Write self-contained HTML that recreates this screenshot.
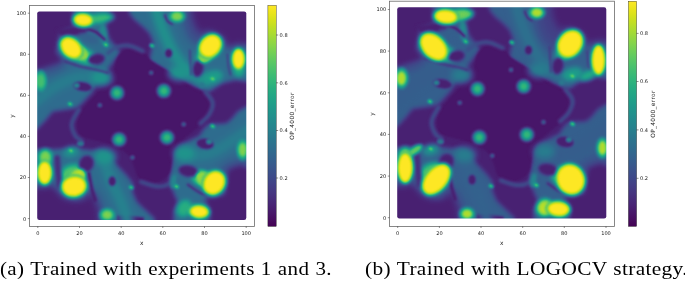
<!DOCTYPE html>
<html><head><meta charset="utf-8"><title>figure</title>
<style>
html,body{margin:0;padding:0;background:#fff}
body{width:685px;height:282px;overflow:hidden;position:relative}
svg{position:absolute;left:0;top:0;display:block}
.t{font-family:"DejaVu Sans","Liberation Sans",sans-serif;font-size:5.05px;fill:#1a1a1a}
.cap{position:absolute;transform-origin:0 0;font-family:"Liberation Serif","DejaVu Serif",serif;color:#000;white-space:nowrap;line-height:1;margin:0}
</style></head><body>
<svg width="685" height="282" viewBox="0 0 685 282">
<defs>
<filter id="viridis" x="0" y="0" width="100%" height="100%" color-interpolation-filters="sRGB">
<feComponentTransfer>
<feFuncR type="table" tableValues="0.267 0.277 0.282 0.283 0.279 0.271 0.259 0.245 0.230 0.214 0.199 0.186 0.173 0.161 0.149 0.138 0.128 0.121 0.121 0.132 0.158 0.197 0.246 0.304 0.369 0.440 0.516 0.596 0.678 0.762 0.846 0.926 0.993"/>
<feFuncG type="table" tableValues="0.005 0.050 0.095 0.136 0.175 0.214 0.252 0.288 0.322 0.356 0.388 0.419 0.449 0.479 0.508 0.537 0.567 0.596 0.626 0.655 0.684 0.712 0.739 0.765 0.789 0.811 0.831 0.849 0.864 0.876 0.887 0.897 0.906"/>
<feFuncB type="table" tableValues="0.329 0.376 0.417 0.453 0.483 0.507 0.525 0.537 0.546 0.551 0.555 0.557 0.558 0.558 0.557 0.555 0.551 0.544 0.533 0.520 0.502 0.479 0.452 0.420 0.383 0.341 0.294 0.243 0.190 0.137 0.100 0.104 0.144"/>
</feComponentTransfer>
</filter>
<filter id="b100" filterUnits="userSpaceOnUse" x="-12" y="-12" width="124" height="124" color-interpolation-filters="sRGB"><feGaussianBlur stdDeviation="1.00"/></filter>
<filter id="b120" filterUnits="userSpaceOnUse" x="-12" y="-12" width="124" height="124" color-interpolation-filters="sRGB"><feGaussianBlur stdDeviation="1.20"/></filter>
<filter id="b130" filterUnits="userSpaceOnUse" x="-12" y="-12" width="124" height="124" color-interpolation-filters="sRGB"><feGaussianBlur stdDeviation="1.30"/></filter>
<filter id="b150" filterUnits="userSpaceOnUse" x="-12" y="-12" width="124" height="124" color-interpolation-filters="sRGB"><feGaussianBlur stdDeviation="1.50"/></filter>
<filter id="b160" filterUnits="userSpaceOnUse" x="-12" y="-12" width="124" height="124" color-interpolation-filters="sRGB"><feGaussianBlur stdDeviation="1.60"/></filter>
<filter id="b180" filterUnits="userSpaceOnUse" x="-12" y="-12" width="124" height="124" color-interpolation-filters="sRGB"><feGaussianBlur stdDeviation="1.80"/></filter>
<filter id="b190" filterUnits="userSpaceOnUse" x="-12" y="-12" width="124" height="124" color-interpolation-filters="sRGB"><feGaussianBlur stdDeviation="1.90"/></filter>
<filter id="b200" filterUnits="userSpaceOnUse" x="-12" y="-12" width="124" height="124" color-interpolation-filters="sRGB"><feGaussianBlur stdDeviation="2.00"/></filter>
<filter id="b40" filterUnits="userSpaceOnUse" x="-12" y="-12" width="124" height="124" color-interpolation-filters="sRGB"><feGaussianBlur stdDeviation="0.40"/></filter>
<filter id="b50" filterUnits="userSpaceOnUse" x="-12" y="-12" width="124" height="124" color-interpolation-filters="sRGB"><feGaussianBlur stdDeviation="0.50"/></filter>
<filter id="b60" filterUnits="userSpaceOnUse" x="-12" y="-12" width="124" height="124" color-interpolation-filters="sRGB"><feGaussianBlur stdDeviation="0.60"/></filter>
<filter id="b70" filterUnits="userSpaceOnUse" x="-12" y="-12" width="124" height="124" color-interpolation-filters="sRGB"><feGaussianBlur stdDeviation="0.70"/></filter>
<filter id="b80" filterUnits="userSpaceOnUse" x="-12" y="-12" width="124" height="124" color-interpolation-filters="sRGB"><feGaussianBlur stdDeviation="0.80"/></filter>
<filter id="b90" filterUnits="userSpaceOnUse" x="-12" y="-12" width="124" height="124" color-interpolation-filters="sRGB"><feGaussianBlur stdDeviation="0.90"/></filter>

<linearGradient id="cbg" x1="0" y1="0" x2="0" y2="1"><stop offset="0.0000" stop-color="rgb(253,231,37)"/><stop offset="0.0312" stop-color="rgb(236,229,27)"/><stop offset="0.0625" stop-color="rgb(216,226,26)"/><stop offset="0.0938" stop-color="rgb(194,223,35)"/><stop offset="0.1250" stop-color="rgb(173,220,48)"/><stop offset="0.1562" stop-color="rgb(152,216,62)"/><stop offset="0.1875" stop-color="rgb(132,212,75)"/><stop offset="0.2188" stop-color="rgb(112,207,87)"/><stop offset="0.2500" stop-color="rgb(94,201,98)"/><stop offset="0.2812" stop-color="rgb(78,195,107)"/><stop offset="0.3125" stop-color="rgb(63,188,115)"/><stop offset="0.3438" stop-color="rgb(50,182,122)"/><stop offset="0.3750" stop-color="rgb(40,174,128)"/><stop offset="0.4062" stop-color="rgb(34,167,133)"/><stop offset="0.4375" stop-color="rgb(31,160,136)"/><stop offset="0.4688" stop-color="rgb(31,152,139)"/><stop offset="0.5000" stop-color="rgb(33,145,141)"/><stop offset="0.5312" stop-color="rgb(35,137,142)"/><stop offset="0.5625" stop-color="rgb(38,130,142)"/><stop offset="0.5938" stop-color="rgb(41,122,142)"/><stop offset="0.6250" stop-color="rgb(44,114,142)"/><stop offset="0.6562" stop-color="rgb(47,107,142)"/><stop offset="0.6875" stop-color="rgb(51,99,142)"/><stop offset="0.7188" stop-color="rgb(55,91,141)"/><stop offset="0.7500" stop-color="rgb(59,82,139)"/><stop offset="0.7812" stop-color="rgb(62,73,137)"/><stop offset="0.8125" stop-color="rgb(66,64,134)"/><stop offset="0.8438" stop-color="rgb(69,55,129)"/><stop offset="0.8750" stop-color="rgb(71,45,123)"/><stop offset="0.9062" stop-color="rgb(72,35,116)"/><stop offset="0.9375" stop-color="rgb(72,24,106)"/><stop offset="0.9688" stop-color="rgb(71,13,96)"/><stop offset="1.0000" stop-color="rgb(68,1,84)"/></linearGradient>
<clipPath id="clipa"><rect x="37.2" y="11.4" width="209.1" height="208.5" rx="2.2"/></clipPath>
<clipPath id="clipb"><rect x="397.2" y="7.2" width="209.1" height="211.3" rx="2.2"/></clipPath>
</defs>
<g clip-path="url(#clipa)"><g filter="url(#viridis)"><g transform="translate(37.80 13.20) scale(2.0840 2.0540)">
<rect x="-3" y="-3" width="106" height="106" fill="#595959"/>
<ellipse cx="75.5" cy="6.0" rx="5.5" ry="10.0" transform="rotate(-15 75.5 6.0)" fill="#333333" filter="url(#b200)" opacity="0.80"/>
<ellipse cx="6.0" cy="25.0" rx="8.0" ry="4.0" transform="rotate(-15 6.0 25.0)" fill="#333333" filter="url(#b200)" opacity="0.80"/>
<ellipse cx="27.0" cy="94.0" rx="4.0" ry="8.0" transform="rotate(-15 27.0 94.0)" fill="#333333" filter="url(#b200)" opacity="0.80"/>
<ellipse cx="95.0" cy="75.0" rx="8.0" ry="3.5" transform="rotate(-15 95.0 75.0)" fill="#333333" filter="url(#b200)" opacity="0.80"/>
<path d="M-4.0 -4.0 L17.0 -4.0 L17.5 7.0 L11.0 9.5 L9.0 19.0 L12.0 23.5 L0.0 27.5 L-4.0 27.5Z" fill="#161616" filter="url(#b130)"/>
<path d="M73.0 -4.0 L74.5 4.0 L77.0 9.5 L82.5 9.0 L88.5 12.0 L91.0 18.0 L93.5 16.0 L98.0 15.5 L104.0 17.0 L104.0 -4.0Z" fill="#161616" filter="url(#b180)"/>
<path d="M104.0 76.0 L97.0 74.0 L91.5 76.0 L90.0 82.0 L89.5 88.0 L84.0 89.5 L80.5 89.0 L80.5 92.5 L82.5 96.0 L82.0 104.0 L104.0 104.0Z" fill="#161616" filter="url(#b130)"/>
<path d="M-4.0 84.0 L3.0 84.5 L7.0 83.0 L9.5 86.0 L12.5 89.5 L18.0 91.0 L23.0 90.0 L25.5 86.5 L27.0 90.0 L29.0 95.0 L30.0 104.0 L-4.0 104.0Z" fill="#161616" filter="url(#b190)"/>
<path d="M38.0 98.4 L44.0 98.6 L51.0 99.4 L51.0 104.0 L38.0 104.0Z" fill="#161616" filter="url(#b60)"/>
<path d="M34.4 -4.0 L44.0 -4.0 L44.0 0.0 L46.6 3.2 L50.8 6.7 L53.6 9.6 L55.4 13.8 L54.6 18.5 L53.5 23.0 L58.0 25.8 L63.1 28.7 L68.0 31.3 L72.2 33.6 L76.0 35.8 L79.0 37.2 L82.2 38.2 L88.1 34.1 L94.8 32.4 L100.3 33.3 L104.0 33.3 L104.0 45.5 L100.3 45.5 L96.0 48.0 L93.2 51.5 L90.5 53.8 L82.0 54.2 L79.7 56.5 L77.5 60.0 L74.0 61.5 L67.9 64.8 L65.4 69.9 L64.5 74.1 L63.5 79.0 L63.8 83.3 L65.7 88.3 L67.6 92.6 L65.4 96.1 L65.3 100.0 L65.3 104.0 L55.9 104.0 L55.9 100.0 L51.0 95.4 L47.4 91.9 L45.3 87.0 L45.6 83.0 L42.5 79.0 L38.8 75.0 L35.3 71.4 L32.5 67.8 L30.0 66.5 L26.0 66.8 L21.0 66.3 L15.0 66.0 L7.1 66.3 L-0.3 66.5 L-4.0 66.5 L-4.0 56.3 L-0.3 56.3 L3.7 52.0 L7.1 47.7 L18.9 46.0 L22.2 42.6 L25.8 38.6 L28.4 34.0 L32.6 28.7 L36.0 23.8 L39.5 19.0 L37.5 16.5 L34.5 13.0 L33.2 9.5 L32.6 4.5 L34.2 0.0Z" fill="#171717" filter="url(#b100)"/>
<path d="M36.3 29.0 C36.8 27.6 36.9 24.7 37.5 23.0 C38.1 21.3 39.1 19.9 40.0 19.0 C40.9 18.1 42.0 17.6 43.0 17.3 C44.0 17.0 44.9 16.9 46.0 17.0 C47.1 17.1 48.4 17.4 49.5 18.0 C50.6 18.6 51.6 19.6 52.5 20.5 C53.4 21.4 53.2 22.0 55.0 23.3 C56.8 24.6 60.2 26.5 63.1 28.4 C66.0 30.3 69.8 33.0 72.2 34.5 C74.6 36.0 76.0 36.2 77.6 37.2 C79.2 38.2 80.7 39.3 81.6 40.5 C82.5 41.7 82.9 43.4 83.2 44.5 C83.5 45.6 83.7 46.0 83.5 47.0 C83.3 48.0 83.2 49.2 82.3 50.5 C81.4 51.8 79.7 53.0 78.0 54.5 C76.3 56.0 73.9 57.8 72.0 59.5 C70.1 61.2 67.7 62.8 66.5 64.5 C65.3 66.2 65.0 68.2 64.6 70.0 C64.2 71.8 64.2 73.7 64.0 75.0 C63.8 76.3 63.7 76.9 63.2 77.8 C62.7 78.7 62.0 79.8 61.0 80.5 C60.0 81.2 58.7 81.9 57.5 82.3 C56.3 82.7 54.9 82.9 53.6 82.8 C52.4 82.7 51.0 82.1 50.0 81.5 C49.0 80.9 48.3 80.0 47.8 79.3 C47.3 78.5 47.4 78.2 47.0 77.0 C46.6 75.8 46.0 73.6 45.4 72.3 C44.8 71.0 44.7 70.2 43.5 69.0 C42.3 67.8 40.2 66.4 38.0 65.3 C35.8 64.2 32.3 63.2 30.0 62.5 C27.7 61.8 25.6 61.5 24.0 61.0 C22.4 60.5 21.3 60.2 20.5 59.5 C19.7 58.8 19.3 58.0 19.0 57.0 C18.7 56.0 18.6 54.7 18.7 53.5 C18.8 52.3 19.1 51.2 19.6 50.0 C20.1 48.8 20.7 47.7 21.5 46.5 C22.3 45.3 23.1 44.6 24.5 43.0 C25.9 41.4 28.3 38.9 30.0 37.0 C31.7 35.1 33.5 32.8 34.5 31.5 C35.5 30.2 35.8 30.4 36.3 29.0Z" fill="#0f0f0f" filter="url(#b60)"/>
<path d="M80.5 38.4 C81.1 39.2 83.6 41.7 83.9 43.5 C84.2 45.3 83.2 47.7 82.2 49.4 C81.2 51.1 78.7 53.0 78.0 53.7" fill="none" stroke="#3d3d3d" stroke-width="1.8" stroke-linecap="round" filter="url(#b70)"/>
<path d="M19.7 46.9 C19.1 48.0 16.6 51.6 16.3 53.7 C16.0 55.8 17.2 58.3 18.0 59.7 C18.8 61.1 20.5 61.6 21.0 62.0" fill="none" stroke="#3d3d3d" stroke-width="1.8" stroke-linecap="round" filter="url(#b70)"/>
<path d="M33.6 19.5 C34.3 19.0 36.3 17.1 38.0 16.5 C39.7 15.9 41.6 15.5 43.7 15.8 C45.8 16.1 49.4 18.1 50.5 18.5" fill="none" stroke="#3d3d3d" stroke-width="1.8" stroke-linecap="round" filter="url(#b70)"/>
<path d="M66.4 81.2 C65.5 81.7 62.7 83.5 61.0 84.0 C59.3 84.5 58.2 84.5 56.3 84.2 C54.4 83.9 50.6 82.4 49.5 82.1" fill="none" stroke="#3d3d3d" stroke-width="1.8" stroke-linecap="round" filter="url(#b70)"/>
<path d="M57.0 -1.0 C57.5 0.5 58.7 4.7 60.0 8.0 C61.3 11.3 63.0 15.7 65.0 19.0 C67.0 22.3 69.5 25.7 72.0 28.0 C74.5 30.3 78.7 32.2 80.0 33.0" fill="none" stroke="#808080" stroke-width="5.5" stroke-linecap="round" filter="url(#b160)"/>
<path d="M-1.0 43.0 C0.5 41.8 4.8 37.9 8.0 36.0 C11.2 34.1 14.3 32.4 18.0 31.5 C21.7 30.6 28.0 30.7 30.0 30.5" fill="none" stroke="#6b6b6b" stroke-width="5.5" stroke-linecap="round" filter="url(#b160)"/>
<path d="M43.0 101.0 C42.5 99.5 41.3 95.3 40.0 92.0 C38.7 88.7 36.5 84.7 35.0 81.0 C33.5 77.3 31.7 71.8 31.0 70.0" fill="none" stroke="#707070" stroke-width="5.5" stroke-linecap="round" filter="url(#b160)"/>
<path d="M101.0 57.0 C99.5 58.0 95.2 61.1 92.0 63.0 C88.8 64.9 85.7 67.4 82.0 68.5 C78.3 69.6 72.0 69.3 70.0 69.5" fill="none" stroke="#6b6b6b" stroke-width="5.5" stroke-linecap="round" filter="url(#b160)"/>
<ellipse cx="30.6" cy="31.6" rx="5.0" ry="3.5" transform="rotate(0 30.6 31.6)" fill="#858585" filter="url(#b150)"/>
<ellipse cx="67.9" cy="29.0" rx="5.0" ry="3.5" transform="rotate(0 67.9 29.0)" fill="#858585" filter="url(#b150)"/>
<ellipse cx="32.3" cy="69.9" rx="5.0" ry="3.5" transform="rotate(0 32.3 69.9)" fill="#858585" filter="url(#b150)"/>
<ellipse cx="70.4" cy="68.2" rx="5.0" ry="3.5" transform="rotate(0 70.4 68.2)" fill="#858585" filter="url(#b150)"/>
<ellipse cx="84.0" cy="31.0" rx="5.0" ry="3.2" transform="rotate(-15 84.0 31.0)" fill="#8c8c8c" filter="url(#b120)"/>
<ellipse cx="16.0" cy="67.5" rx="4.0" ry="2.5" transform="rotate(-15 16.0 67.5)" fill="#808080" filter="url(#b120)"/>
<ellipse cx="20.5" cy="63.5" rx="1.6" ry="1.2" transform="rotate(0 20.5 63.5)" fill="#666666" filter="url(#b60)"/>
<ellipse cx="65.2" cy="82.0" rx="1.6" ry="3.5" transform="rotate(10 65.2 82.0)" fill="#737373" filter="url(#b70)"/>
<ellipse cx="31.4" cy="10.5" rx="1.7" ry="5.0" transform="rotate(-5 31.4 10.5)" fill="#787878" filter="url(#b70)"/>
<ellipse cx="78.8" cy="35.0" rx="1.3" ry="1.3" transform="rotate(0 78.8 35.0)" fill="#666666" filter="url(#b60)"/>
<ellipse cx="29.5" cy="2.6" rx="7.0" ry="2.4" transform="rotate(-8 29.5 2.6)" fill="#adadad" filter="url(#b100)"/>
<ellipse cx="21.5" cy="20.5" rx="7.5" ry="3.8" transform="rotate(25 21.5 20.5)" fill="#a8a8a8" filter="url(#b100)"/>
<ellipse cx="80.0" cy="20.5" rx="5.0" ry="3.2" transform="rotate(-40 80.0 20.5)" fill="#9e9e9e" filter="url(#b100)"/>
<ellipse cx="96.5" cy="27.5" rx="2.8" ry="3.5" transform="rotate(0 96.5 27.5)" fill="#999999" filter="url(#b100)"/>
<ellipse cx="3.6" cy="70.3" rx="3.3" ry="4.2" transform="rotate(0 3.6 70.3)" fill="#cccccc" filter="url(#b100)"/>
<ellipse cx="16.5" cy="78.5" rx="6.0" ry="4.8" transform="rotate(-20 16.5 78.5)" fill="#b8b8b8" filter="url(#b120)"/>
<ellipse cx="79.0" cy="80.3" rx="5.5" ry="4.2" transform="rotate(20 79.0 80.3)" fill="#a8a8a8" filter="url(#b90)"/>
<ellipse cx="70.3" cy="95.0" rx="3.6" ry="4.4" transform="rotate(30 70.3 95.0)" fill="#9e9e9e" filter="url(#b100)"/>
<path d="M9.0 8.0 L18.0 6.4 L24.5 7.0 L23.0 10.3 L17.0 11.0 L11.0 11.3Z" fill="#161616" filter="url(#b70)"/>
<path d="M23.5 7.6 C24.2 7.9 26.6 8.3 28.0 9.2 C29.4 10.1 31.3 12.2 32.0 12.8" fill="none" stroke="#161616" stroke-width="1.5" stroke-linecap="round" filter="url(#b50)"/>
<ellipse cx="24.5" cy="12.2" rx="5.0" ry="2.2" transform="rotate(22 24.5 12.2)" fill="#4c4c4c" filter="url(#b90)" opacity="0.80"/>
<path d="M13.0 23.5 C14.2 23.9 17.5 25.1 20.0 25.8 C22.5 26.5 25.8 27.0 28.0 27.5 C30.2 28.0 32.6 28.8 33.5 29.0" fill="none" stroke="#1f1f1f" stroke-width="1.3" stroke-linecap="round" filter="url(#b50)" opacity="0.80"/>
<path d="M9.3 70.5 C9.4 71.6 9.5 74.8 9.7 77.0 C9.9 79.2 10.3 82.8 10.4 84.0" fill="none" stroke="#212121" stroke-width="3.0" stroke-linecap="round" filter="url(#b80)"/>
<path d="M72.0 83.5 C73.0 84.2 76.2 86.7 78.0 87.5 C79.8 88.3 81.8 88.3 82.5 88.5" fill="none" stroke="#1f1f1f" stroke-width="1.3" stroke-linecap="round" filter="url(#b50)"/>
<path d="M24.5 78.0 C24.7 79.2 25.3 82.8 25.8 85.0 C26.3 87.2 27.2 90.0 27.5 91.0" fill="none" stroke="#161616" stroke-width="1.8" stroke-linecap="round" filter="url(#b60)"/>
<path d="M61.0 1.0 C61.2 1.5 61.9 3.3 62.5 4.0 C63.1 4.7 64.2 5.0 64.5 5.2" fill="none" stroke="#1f1f1f" stroke-width="1.2" stroke-linecap="round" filter="url(#b50)"/>
<path d="M73.0 18.0 C73.0 19.0 73.1 22.0 73.2 24.0 C73.3 26.0 73.5 29.0 73.5 30.0" fill="none" stroke="#1f1f1f" stroke-width="1.0" stroke-linecap="round" filter="url(#b60)" opacity="0.70"/>
<path d="M91.0 20.0 C91.1 21.0 91.2 24.3 91.5 26.0 C91.8 27.7 92.3 29.3 92.5 30.0" fill="none" stroke="#1f1f1f" stroke-width="1.0" stroke-linecap="round" filter="url(#b50)" opacity="0.70"/>
<ellipse cx="28.1" cy="22.4" rx="4.2" ry="2.8" transform="rotate(-10 28.1 22.4)" fill="#161616" filter="url(#b70)"/>
<ellipse cx="76.9" cy="27.0" rx="2.7" ry="4.3" transform="rotate(10 76.9 27.0)" fill="#161616" filter="url(#b70)"/>
<ellipse cx="23.3" cy="73.3" rx="3.6" ry="4.3" transform="rotate(20 23.3 73.3)" fill="#161616" filter="url(#b70)"/>
<ellipse cx="72.3" cy="76.9" rx="5.0" ry="2.9" transform="rotate(10 72.3 76.9)" fill="#161616" filter="url(#b70)"/>
<ellipse cx="21.5" cy="35.7" rx="4.5" ry="2.3" transform="rotate(10 21.5 35.7)" fill="#161616" filter="url(#b60)"/>
<ellipse cx="18.6" cy="35.2" rx="1.4" ry="1.2" transform="rotate(0 18.6 35.2)" fill="#737373" filter="url(#b50)"/>
<ellipse cx="62.8" cy="19.5" rx="1.8" ry="2.2" transform="rotate(0 62.8 19.5)" fill="#161616" filter="url(#b60)"/>
<ellipse cx="80.3" cy="63.6" rx="4.2" ry="2.6" transform="rotate(10 80.3 63.6)" fill="#161616" filter="url(#b60)"/>
<ellipse cx="82.2" cy="62.6" rx="1.4" ry="1.2" transform="rotate(0 82.2 62.6)" fill="#737373" filter="url(#b50)"/>
<ellipse cx="35.7" cy="81.8" rx="1.8" ry="2.4" transform="rotate(0 35.7 81.8)" fill="#161616" filter="url(#b60)"/>
<ellipse cx="19.5" cy="18.8" rx="5.3" ry="3.4" transform="rotate(35 19.5 18.8)" fill="#d6d6d6" filter="url(#b80)"/>
<ellipse cx="81.2" cy="19.5" rx="5.3" ry="3.4" transform="rotate(125 81.2 19.5)" fill="#d6d6d6" filter="url(#b80)"/>
<ellipse cx="80.5" cy="81.2" rx="5.3" ry="3.4" transform="rotate(215 80.5 81.2)" fill="#d6d6d6" filter="url(#b80)"/>
<ellipse cx="18.8" cy="80.5" rx="5.3" ry="3.4" transform="rotate(305 18.8 80.5)" fill="#d6d6d6" filter="url(#b80)"/>
<ellipse cx="18.2" cy="81.0" rx="4.6" ry="3.0" transform="rotate(-55 18.2 81.0)" fill="#ededed" filter="url(#b80)"/>
<ellipse cx="21.8" cy="3.3" rx="5.4" ry="3.9" transform="rotate(5 21.8 3.3)" fill="#a8a8a8" filter="url(#b70)"/>
<ellipse cx="21.8" cy="3.3" rx="4.4" ry="2.9" transform="rotate(5 21.8 3.3)" fill="#ffffff" filter="url(#b70)"/>
<ellipse cx="16.0" cy="16.9" rx="6.7" ry="5.2" transform="rotate(45 16.0 16.9)" fill="#a8a8a8" filter="url(#b70)"/>
<ellipse cx="16.0" cy="16.9" rx="5.7" ry="4.2" transform="rotate(45 16.0 16.9)" fill="#ffffff" filter="url(#b70)"/>
<ellipse cx="82.8" cy="16.0" rx="6.8" ry="5.8" transform="rotate(-50 82.8 16.0)" fill="#a8a8a8" filter="url(#b70)"/>
<ellipse cx="82.8" cy="16.0" rx="5.8" ry="4.8" transform="rotate(-50 82.8 16.0)" fill="#ffffff" filter="url(#b70)"/>
<ellipse cx="96.3" cy="22.3" rx="3.7" ry="5.7" transform="rotate(0 96.3 22.3)" fill="#a8a8a8" filter="url(#b70)"/>
<ellipse cx="96.3" cy="22.3" rx="2.9" ry="4.9" transform="rotate(0 96.3 22.3)" fill="#ffffff" filter="url(#b70)"/>
<ellipse cx="3.3" cy="77.7" rx="4.1" ry="6.3" transform="rotate(0 3.3 77.7)" fill="#a8a8a8" filter="url(#b70)"/>
<ellipse cx="3.3" cy="77.7" rx="3.3" ry="5.5" transform="rotate(0 3.3 77.7)" fill="#ffffff" filter="url(#b70)"/>
<ellipse cx="17.4" cy="84.3" rx="6.7" ry="5.9" transform="rotate(-10 17.4 84.3)" fill="#a8a8a8" filter="url(#b70)"/>
<ellipse cx="17.4" cy="84.3" rx="5.7" ry="4.9" transform="rotate(-10 17.4 84.3)" fill="#ffffff" filter="url(#b70)"/>
<ellipse cx="84.6" cy="82.6" rx="6.8" ry="5.9" transform="rotate(-60 84.6 82.6)" fill="#a8a8a8" filter="url(#b70)"/>
<ellipse cx="84.6" cy="82.6" rx="5.8" ry="4.9" transform="rotate(-60 84.6 82.6)" fill="#ffffff" filter="url(#b70)"/>
<ellipse cx="77.4" cy="96.6" rx="5.4" ry="3.9" transform="rotate(5 77.4 96.6)" fill="#a8a8a8" filter="url(#b70)"/>
<ellipse cx="77.4" cy="96.6" rx="4.4" ry="2.9" transform="rotate(5 77.4 96.6)" fill="#ffffff" filter="url(#b70)"/>
<ellipse cx="1.4" cy="33.0" rx="3.0" ry="5.2" transform="rotate(0 1.4 33.0)" fill="#949494" filter="url(#b80)"/>
<ellipse cx="1.4" cy="33.0" rx="2.0" ry="3.4" transform="rotate(0 1.4 33.0)" fill="#b2b2b2" filter="url(#b80)"/>
<ellipse cx="66.8" cy="1.5" rx="4.1" ry="3.2" transform="rotate(0 66.8 1.5)" fill="#949494" filter="url(#b80)"/>
<ellipse cx="66.8" cy="1.5" rx="2.7" ry="2.1" transform="rotate(0 66.8 1.5)" fill="#cccccc" filter="url(#b80)"/>
<ellipse cx="98.3" cy="66.5" rx="3.0" ry="5.2" transform="rotate(0 98.3 66.5)" fill="#949494" filter="url(#b80)"/>
<ellipse cx="98.3" cy="66.5" rx="2.0" ry="3.4" transform="rotate(0 98.3 66.5)" fill="#cccccc" filter="url(#b80)"/>
<ellipse cx="33.3" cy="98.2" rx="3.9" ry="3.3" transform="rotate(0 33.3 98.2)" fill="#949494" filter="url(#b80)"/>
<ellipse cx="33.3" cy="98.2" rx="2.5" ry="2.1" transform="rotate(0 33.3 98.2)" fill="#cccccc" filter="url(#b80)"/>
<ellipse cx="32.7" cy="15.4" rx="1.2" ry="0.8" transform="rotate(30 32.7 15.4)" fill="#cccccc" filter="url(#b40)"/>
<ellipse cx="54.8" cy="15.8" rx="1.2" ry="0.8" transform="rotate(30 54.8 15.8)" fill="#cccccc" filter="url(#b40)"/>
<ellipse cx="15.5" cy="44.2" rx="1.2" ry="0.8" transform="rotate(30 15.5 44.2)" fill="#cccccc" filter="url(#b40)"/>
<ellipse cx="83.9" cy="32.0" rx="1.2" ry="0.8" transform="rotate(30 83.9 32.0)" fill="#cccccc" filter="url(#b40)"/>
<ellipse cx="83.9" cy="55.0" rx="1.2" ry="0.8" transform="rotate(30 83.9 55.0)" fill="#cccccc" filter="url(#b40)"/>
<ellipse cx="15.9" cy="66.9" rx="1.2" ry="0.8" transform="rotate(30 15.9 66.9)" fill="#cccccc" filter="url(#b40)"/>
<ellipse cx="44.8" cy="84.8" rx="1.2" ry="0.8" transform="rotate(30 44.8 84.8)" fill="#cccccc" filter="url(#b40)"/>
<ellipse cx="66.6" cy="84.4" rx="1.2" ry="0.8" transform="rotate(30 66.6 84.4)" fill="#cccccc" filter="url(#b40)"/>
<ellipse cx="29.8" cy="44.8" rx="1.0" ry="1.0" transform="rotate(0 29.8 44.8)" fill="#4c4c4c" filter="url(#b50)"/>
<ellipse cx="70.0" cy="54.1" rx="1.0" ry="1.0" transform="rotate(0 70.0 54.1)" fill="#4c4c4c" filter="url(#b50)"/>
<ellipse cx="54.4" cy="29.0" rx="1.0" ry="1.0" transform="rotate(0 54.4 29.0)" fill="#4c4c4c" filter="url(#b50)"/>
<ellipse cx="45.4" cy="70.3" rx="1.0" ry="1.0" transform="rotate(0 45.4 70.3)" fill="#4c4c4c" filter="url(#b50)"/>
<ellipse cx="38.0" cy="38.8" rx="3.3" ry="3.3" transform="rotate(0 38.0 38.8)" fill="#6b6b6b" filter="url(#b80)"/>
<ellipse cx="38.0" cy="38.8" rx="2.1" ry="2.1" transform="rotate(0 38.0 38.8)" fill="#a8a8a8" filter="url(#b70)"/>
<ellipse cx="60.5" cy="37.8" rx="3.3" ry="3.3" transform="rotate(0 60.5 37.8)" fill="#6b6b6b" filter="url(#b80)"/>
<ellipse cx="60.5" cy="37.8" rx="2.1" ry="2.1" transform="rotate(0 60.5 37.8)" fill="#a8a8a8" filter="url(#b70)"/>
<ellipse cx="39.0" cy="61.5" rx="3.3" ry="3.3" transform="rotate(0 39.0 61.5)" fill="#6b6b6b" filter="url(#b80)"/>
<ellipse cx="39.0" cy="61.5" rx="2.1" ry="2.1" transform="rotate(0 39.0 61.5)" fill="#a8a8a8" filter="url(#b70)"/>
<ellipse cx="62.0" cy="60.5" rx="3.3" ry="3.3" transform="rotate(0 62.0 60.5)" fill="#6b6b6b" filter="url(#b80)"/>
<ellipse cx="62.0" cy="60.5" rx="2.1" ry="2.1" transform="rotate(0 62.0 60.5)" fill="#a8a8a8" filter="url(#b70)"/>
</g></g></g>
<rect x="29.4" y="5.4" width="225.0" height="221.0" fill="none" stroke="#6a6a6a" stroke-width="0.8"/>
<line x1="37.8" y1="226.4" x2="37.8" y2="228.0" stroke="#222" stroke-width="0.5"/>
<text x="37.8" y="235.0" text-anchor="middle" class="t">0</text>
<line x1="27.8" y1="218.6" x2="29.4" y2="218.6" stroke="#222" stroke-width="0.5"/>
<text x="26.2" y="220.5" text-anchor="end" class="t">0</text>
<line x1="79.5" y1="226.4" x2="79.5" y2="228.0" stroke="#222" stroke-width="0.5"/>
<text x="79.5" y="235.0" text-anchor="middle" class="t">20</text>
<line x1="27.8" y1="177.5" x2="29.4" y2="177.5" stroke="#222" stroke-width="0.5"/>
<text x="26.2" y="179.4" text-anchor="end" class="t">20</text>
<line x1="121.2" y1="226.4" x2="121.2" y2="228.0" stroke="#222" stroke-width="0.5"/>
<text x="121.2" y="235.0" text-anchor="middle" class="t">40</text>
<line x1="27.8" y1="136.4" x2="29.4" y2="136.4" stroke="#222" stroke-width="0.5"/>
<text x="26.2" y="138.3" text-anchor="end" class="t">40</text>
<line x1="162.8" y1="226.4" x2="162.8" y2="228.0" stroke="#222" stroke-width="0.5"/>
<text x="162.8" y="235.0" text-anchor="middle" class="t">60</text>
<line x1="27.8" y1="95.4" x2="29.4" y2="95.4" stroke="#222" stroke-width="0.5"/>
<text x="26.2" y="97.3" text-anchor="end" class="t">60</text>
<line x1="204.5" y1="226.4" x2="204.5" y2="228.0" stroke="#222" stroke-width="0.5"/>
<text x="204.5" y="235.0" text-anchor="middle" class="t">80</text>
<line x1="27.8" y1="54.3" x2="29.4" y2="54.3" stroke="#222" stroke-width="0.5"/>
<text x="26.2" y="56.2" text-anchor="end" class="t">80</text>
<line x1="246.2" y1="226.4" x2="246.2" y2="228.0" stroke="#222" stroke-width="0.5"/>
<text x="246.2" y="235.0" text-anchor="middle" class="t">100</text>
<line x1="27.8" y1="13.2" x2="29.4" y2="13.2" stroke="#222" stroke-width="0.5"/>
<text x="26.2" y="15.1" text-anchor="end" class="t">100</text>
<text x="141.6" y="244.8" text-anchor="middle" class="t" style="font-size:5.8px">x</text>
<text transform="translate(13.6 116.0) rotate(-90)" text-anchor="middle" class="t" style="font-size:5.8px">y</text>
<rect x="267.9" y="5.4" width="8.3" height="221.0" fill="url(#cbg)" stroke="#222" stroke-width="0.4"/>
<line x1="276.2" y1="35.0" x2="278.2" y2="35.0" stroke="#222" stroke-width="0.5"/>
<text x="279.6" y="36.9" class="t">0.8</text>
<line x1="276.2" y1="82.8" x2="278.2" y2="82.8" stroke="#222" stroke-width="0.5"/>
<text x="279.6" y="84.7" class="t">0.6</text>
<line x1="276.2" y1="130.5" x2="278.2" y2="130.5" stroke="#222" stroke-width="0.5"/>
<text x="279.6" y="132.4" class="t">0.4</text>
<line x1="276.2" y1="178.0" x2="278.2" y2="178.0" stroke="#222" stroke-width="0.5"/>
<text x="279.6" y="179.9" class="t">0.2</text>
<text transform="translate(294.3 116.0) rotate(-90)" text-anchor="middle" class="t" style="font-size:5.8px;letter-spacing:0.38px">OP_4000_error</text>
<g clip-path="url(#clipb)"><g filter="url(#viridis)"><g transform="translate(397.70 9.50) scale(2.0830 2.0820)">
<rect x="-3" y="-3" width="106" height="106" fill="#4c4c4c"/>
<ellipse cx="75.5" cy="6.0" rx="5.5" ry="10.0" transform="rotate(-15 75.5 6.0)" fill="#333333" filter="url(#b200)" opacity="0.80"/>
<ellipse cx="73.0" cy="9.0" rx="6.0" ry="11.0" transform="rotate(-20 73.0 9.0)" fill="#2e2e2e" filter="url(#b200)" opacity="0.70"/>
<ellipse cx="6.0" cy="25.0" rx="8.0" ry="4.0" transform="rotate(-15 6.0 25.0)" fill="#333333" filter="url(#b200)" opacity="0.80"/>
<ellipse cx="27.0" cy="94.0" rx="4.0" ry="8.0" transform="rotate(-15 27.0 94.0)" fill="#333333" filter="url(#b200)" opacity="0.80"/>
<ellipse cx="95.0" cy="75.0" rx="8.0" ry="3.5" transform="rotate(-15 95.0 75.0)" fill="#333333" filter="url(#b200)" opacity="0.80"/>
<path d="M-4.0 -4.0 L17.0 -4.0 L17.5 7.0 L11.0 9.5 L9.0 19.0 L12.0 23.5 L0.0 27.5 L-4.0 27.5Z" fill="#161616" filter="url(#b130)"/>
<path d="M73.0 -4.0 L74.5 4.0 L77.0 9.5 L82.5 9.0 L88.5 12.0 L91.0 18.0 L93.5 16.0 L98.0 15.5 L104.0 17.0 L104.0 -4.0Z" fill="#161616" filter="url(#b180)"/>
<path d="M104.0 76.0 L97.0 74.0 L91.5 76.0 L90.0 82.0 L89.5 88.0 L84.0 89.5 L80.5 89.0 L80.5 92.5 L82.5 96.0 L82.0 104.0 L104.0 104.0Z" fill="#161616" filter="url(#b130)"/>
<path d="M-4.0 84.0 L3.0 84.5 L7.0 83.0 L9.5 86.0 L12.5 89.5 L18.0 91.0 L23.0 90.0 L25.5 86.5 L27.0 90.0 L29.0 95.0 L30.0 104.0 L-4.0 104.0Z" fill="#161616" filter="url(#b190)"/>
<path d="M38.0 98.4 L44.0 98.6 L51.0 99.4 L51.0 104.0 L38.0 104.0Z" fill="#161616" filter="url(#b60)"/>
<path d="M34.4 -4.0 L44.0 -4.0 L44.0 0.0 L46.6 3.2 L50.8 6.7 L53.6 9.6 L55.4 13.8 L54.6 18.5 L53.5 23.0 L58.0 25.8 L63.1 28.7 L68.0 31.3 L72.2 33.6 L76.0 35.8 L79.0 37.2 L82.2 38.2 L88.1 34.1 L94.8 32.4 L100.3 33.3 L104.0 33.3 L104.0 45.5 L100.3 45.5 L96.0 48.0 L93.2 51.5 L90.5 53.8 L82.0 54.2 L79.7 56.5 L77.5 60.0 L74.0 61.5 L67.9 64.8 L65.4 69.9 L64.5 74.1 L63.5 79.0 L63.8 83.3 L65.7 88.3 L67.6 92.6 L65.4 96.1 L65.3 100.0 L65.3 104.0 L55.9 104.0 L55.9 100.0 L51.0 95.4 L47.4 91.9 L45.3 87.0 L45.6 83.0 L42.5 79.0 L38.8 75.0 L35.3 71.4 L32.5 67.8 L30.0 66.5 L26.0 66.8 L21.0 66.3 L15.0 66.0 L7.1 66.3 L-0.3 66.5 L-4.0 66.5 L-4.0 56.3 L-0.3 56.3 L3.7 52.0 L7.1 47.7 L18.9 46.0 L22.2 42.6 L25.8 38.6 L28.4 34.0 L32.6 28.7 L36.0 23.8 L39.5 19.0 L37.5 16.5 L34.5 13.0 L33.2 9.5 L32.6 4.5 L34.2 0.0Z" fill="#171717" filter="url(#b100)"/>
<path d="M36.3 29.0 C36.8 27.6 36.9 24.7 37.5 23.0 C38.1 21.3 39.1 19.9 40.0 19.0 C40.9 18.1 42.0 17.6 43.0 17.3 C44.0 17.0 44.9 16.9 46.0 17.0 C47.1 17.1 48.4 17.4 49.5 18.0 C50.6 18.6 51.6 19.6 52.5 20.5 C53.4 21.4 53.2 22.0 55.0 23.3 C56.8 24.6 60.2 26.5 63.1 28.4 C66.0 30.3 69.8 33.0 72.2 34.5 C74.6 36.0 76.0 36.2 77.6 37.2 C79.2 38.2 80.7 39.3 81.6 40.5 C82.5 41.7 82.9 43.4 83.2 44.5 C83.5 45.6 83.7 46.0 83.5 47.0 C83.3 48.0 83.2 49.2 82.3 50.5 C81.4 51.8 79.7 53.0 78.0 54.5 C76.3 56.0 73.9 57.8 72.0 59.5 C70.1 61.2 67.7 62.8 66.5 64.5 C65.3 66.2 65.0 68.2 64.6 70.0 C64.2 71.8 64.2 73.7 64.0 75.0 C63.8 76.3 63.7 76.9 63.2 77.8 C62.7 78.7 62.0 79.8 61.0 80.5 C60.0 81.2 58.7 81.9 57.5 82.3 C56.3 82.7 54.9 82.9 53.6 82.8 C52.4 82.7 51.0 82.1 50.0 81.5 C49.0 80.9 48.3 80.0 47.8 79.3 C47.3 78.5 47.4 78.2 47.0 77.0 C46.6 75.8 46.0 73.6 45.4 72.3 C44.8 71.0 44.7 70.2 43.5 69.0 C42.3 67.8 40.2 66.4 38.0 65.3 C35.8 64.2 32.3 63.2 30.0 62.5 C27.7 61.8 25.6 61.5 24.0 61.0 C22.4 60.5 21.3 60.2 20.5 59.5 C19.7 58.8 19.3 58.0 19.0 57.0 C18.7 56.0 18.6 54.7 18.7 53.5 C18.8 52.3 19.1 51.2 19.6 50.0 C20.1 48.8 20.7 47.7 21.5 46.5 C22.3 45.3 23.1 44.6 24.5 43.0 C25.9 41.4 28.3 38.9 30.0 37.0 C31.7 35.1 33.5 32.8 34.5 31.5 C35.5 30.2 35.8 30.4 36.3 29.0Z" fill="#0f0f0f" filter="url(#b60)"/>
<path d="M80.5 38.4 C81.1 39.2 83.6 41.7 83.9 43.5 C84.2 45.3 83.2 47.7 82.2 49.4 C81.2 51.1 78.7 53.0 78.0 53.7" fill="none" stroke="#3d3d3d" stroke-width="1.8" stroke-linecap="round" filter="url(#b70)"/>
<path d="M19.7 46.9 C19.1 48.0 16.6 51.6 16.3 53.7 C16.0 55.8 17.2 58.3 18.0 59.7 C18.8 61.1 20.5 61.6 21.0 62.0" fill="none" stroke="#3d3d3d" stroke-width="1.8" stroke-linecap="round" filter="url(#b70)"/>
<path d="M33.6 19.5 C34.3 19.0 36.3 17.1 38.0 16.5 C39.7 15.9 41.6 15.5 43.7 15.8 C45.8 16.1 49.4 18.1 50.5 18.5" fill="none" stroke="#3d3d3d" stroke-width="1.8" stroke-linecap="round" filter="url(#b70)"/>
<path d="M66.4 81.2 C65.5 81.7 62.7 83.5 61.0 84.0 C59.3 84.5 58.2 84.5 56.3 84.2 C54.4 83.9 50.6 82.4 49.5 82.1" fill="none" stroke="#3d3d3d" stroke-width="1.8" stroke-linecap="round" filter="url(#b70)"/>
<path d="M57.0 -1.0 C57.5 0.5 58.7 4.7 60.0 8.0 C61.3 11.3 63.0 15.7 65.0 19.0 C67.0 22.3 69.5 25.7 72.0 28.0 C74.5 30.3 78.7 32.2 80.0 33.0" fill="none" stroke="#5e5e5e" stroke-width="5.5" stroke-linecap="round" filter="url(#b160)"/>
<path d="M-1.0 43.0 C0.5 41.8 4.8 37.9 8.0 36.0 C11.2 34.1 14.3 32.4 18.0 31.5 C21.7 30.6 28.0 30.7 30.0 30.5" fill="none" stroke="#4a4a4a" stroke-width="5.5" stroke-linecap="round" filter="url(#b160)"/>
<path d="M43.0 101.0 C42.5 99.5 41.3 95.3 40.0 92.0 C38.7 88.7 36.5 84.7 35.0 81.0 C33.5 77.3 31.7 71.8 31.0 70.0" fill="none" stroke="#4f4f4f" stroke-width="5.5" stroke-linecap="round" filter="url(#b160)"/>
<path d="M101.0 57.0 C99.5 58.0 95.2 61.1 92.0 63.0 C88.8 64.9 85.7 67.4 82.0 68.5 C78.3 69.6 72.0 69.3 70.0 69.5" fill="none" stroke="#4a4a4a" stroke-width="5.5" stroke-linecap="round" filter="url(#b160)"/>
<ellipse cx="30.6" cy="31.6" rx="5.0" ry="3.5" transform="rotate(0 30.6 31.6)" fill="#6b6b6b" filter="url(#b150)"/>
<ellipse cx="67.9" cy="29.0" rx="5.0" ry="3.5" transform="rotate(0 67.9 29.0)" fill="#6b6b6b" filter="url(#b150)"/>
<ellipse cx="32.3" cy="69.9" rx="5.0" ry="3.5" transform="rotate(0 32.3 69.9)" fill="#6b6b6b" filter="url(#b150)"/>
<ellipse cx="70.4" cy="68.2" rx="5.0" ry="3.5" transform="rotate(0 70.4 68.2)" fill="#6b6b6b" filter="url(#b150)"/>
<ellipse cx="84.0" cy="31.0" rx="5.0" ry="3.2" transform="rotate(-15 84.0 31.0)" fill="#8c8c8c" filter="url(#b120)"/>
<ellipse cx="16.0" cy="67.5" rx="4.0" ry="2.5" transform="rotate(-15 16.0 67.5)" fill="#808080" filter="url(#b120)"/>
<ellipse cx="20.5" cy="63.5" rx="1.6" ry="1.2" transform="rotate(0 20.5 63.5)" fill="#666666" filter="url(#b60)"/>
<ellipse cx="65.2" cy="82.0" rx="1.6" ry="3.5" transform="rotate(10 65.2 82.0)" fill="#737373" filter="url(#b70)"/>
<ellipse cx="31.4" cy="10.5" rx="1.7" ry="5.0" transform="rotate(-5 31.4 10.5)" fill="#787878" filter="url(#b70)"/>
<ellipse cx="78.8" cy="35.0" rx="1.3" ry="1.3" transform="rotate(0 78.8 35.0)" fill="#666666" filter="url(#b60)"/>
<ellipse cx="29.5" cy="2.6" rx="7.0" ry="2.4" transform="rotate(-8 29.5 2.6)" fill="#adadad" filter="url(#b100)"/>
<ellipse cx="21.5" cy="20.5" rx="7.5" ry="3.8" transform="rotate(25 21.5 20.5)" fill="#a8a8a8" filter="url(#b100)"/>
<ellipse cx="80.0" cy="20.5" rx="5.0" ry="3.2" transform="rotate(-40 80.0 20.5)" fill="#9e9e9e" filter="url(#b100)"/>
<ellipse cx="96.5" cy="27.5" rx="2.8" ry="3.5" transform="rotate(0 96.5 27.5)" fill="#999999" filter="url(#b100)"/>
<ellipse cx="3.6" cy="70.3" rx="3.3" ry="4.2" transform="rotate(0 3.6 70.3)" fill="#cccccc" filter="url(#b100)"/>
<ellipse cx="16.5" cy="78.5" rx="6.0" ry="4.8" transform="rotate(-20 16.5 78.5)" fill="#b8b8b8" filter="url(#b120)"/>
<ellipse cx="79.0" cy="80.3" rx="5.5" ry="4.2" transform="rotate(20 79.0 80.3)" fill="#a8a8a8" filter="url(#b90)"/>
<ellipse cx="70.3" cy="95.0" rx="3.6" ry="4.4" transform="rotate(30 70.3 95.0)" fill="#9e9e9e" filter="url(#b100)"/>
<path d="M9.0 8.0 L18.0 6.4 L24.5 7.0 L23.0 10.3 L17.0 11.0 L11.0 11.3Z" fill="#161616" filter="url(#b70)"/>
<path d="M23.5 7.6 C24.2 7.9 26.6 8.3 28.0 9.2 C29.4 10.1 31.3 12.2 32.0 12.8" fill="none" stroke="#161616" stroke-width="1.5" stroke-linecap="round" filter="url(#b50)"/>
<ellipse cx="24.5" cy="12.2" rx="5.0" ry="2.2" transform="rotate(22 24.5 12.2)" fill="#4c4c4c" filter="url(#b90)" opacity="0.80"/>
<path d="M13.0 23.5 C14.2 23.9 17.5 25.1 20.0 25.8 C22.5 26.5 25.8 27.0 28.0 27.5 C30.2 28.0 32.6 28.8 33.5 29.0" fill="none" stroke="#1f1f1f" stroke-width="1.3" stroke-linecap="round" filter="url(#b50)" opacity="0.80"/>
<path d="M9.3 70.5 C9.4 71.6 9.5 74.8 9.7 77.0 C9.9 79.2 10.3 82.8 10.4 84.0" fill="none" stroke="#212121" stroke-width="3.0" stroke-linecap="round" filter="url(#b80)"/>
<path d="M72.0 83.5 C73.0 84.2 76.2 86.7 78.0 87.5 C79.8 88.3 81.8 88.3 82.5 88.5" fill="none" stroke="#1f1f1f" stroke-width="1.3" stroke-linecap="round" filter="url(#b50)"/>
<path d="M24.5 78.0 C24.7 79.2 25.3 82.8 25.8 85.0 C26.3 87.2 27.2 90.0 27.5 91.0" fill="none" stroke="#161616" stroke-width="1.8" stroke-linecap="round" filter="url(#b60)"/>
<path d="M61.0 1.0 C61.2 1.5 61.9 3.3 62.5 4.0 C63.1 4.7 64.2 5.0 64.5 5.2" fill="none" stroke="#1f1f1f" stroke-width="1.2" stroke-linecap="round" filter="url(#b50)"/>
<path d="M73.0 18.0 C73.0 19.0 73.1 22.0 73.2 24.0 C73.3 26.0 73.5 29.0 73.5 30.0" fill="none" stroke="#1f1f1f" stroke-width="1.0" stroke-linecap="round" filter="url(#b60)" opacity="0.70"/>
<path d="M91.0 20.0 C91.1 21.0 91.2 24.3 91.5 26.0 C91.8 27.7 92.3 29.3 92.5 30.0" fill="none" stroke="#1f1f1f" stroke-width="1.0" stroke-linecap="round" filter="url(#b50)" opacity="0.70"/>
<ellipse cx="28.1" cy="22.4" rx="4.2" ry="2.8" transform="rotate(-10 28.1 22.4)" fill="#161616" filter="url(#b70)"/>
<ellipse cx="76.9" cy="27.0" rx="2.7" ry="4.3" transform="rotate(10 76.9 27.0)" fill="#161616" filter="url(#b70)"/>
<ellipse cx="23.3" cy="73.3" rx="3.6" ry="4.3" transform="rotate(20 23.3 73.3)" fill="#161616" filter="url(#b70)"/>
<ellipse cx="72.3" cy="76.9" rx="5.0" ry="2.9" transform="rotate(10 72.3 76.9)" fill="#161616" filter="url(#b70)"/>
<ellipse cx="21.5" cy="35.7" rx="4.5" ry="2.3" transform="rotate(10 21.5 35.7)" fill="#161616" filter="url(#b60)"/>
<ellipse cx="18.6" cy="35.2" rx="1.4" ry="1.2" transform="rotate(0 18.6 35.2)" fill="#737373" filter="url(#b50)"/>
<ellipse cx="62.8" cy="19.5" rx="1.8" ry="2.2" transform="rotate(0 62.8 19.5)" fill="#161616" filter="url(#b60)"/>
<ellipse cx="80.3" cy="63.6" rx="4.2" ry="2.6" transform="rotate(10 80.3 63.6)" fill="#161616" filter="url(#b60)"/>
<ellipse cx="82.2" cy="62.6" rx="1.4" ry="1.2" transform="rotate(0 82.2 62.6)" fill="#737373" filter="url(#b50)"/>
<ellipse cx="35.7" cy="81.8" rx="1.8" ry="2.4" transform="rotate(0 35.7 81.8)" fill="#161616" filter="url(#b60)"/>
<ellipse cx="30.0" cy="2.6" rx="5.5" ry="2.3" transform="rotate(-5 30.0 2.6)" fill="#c7c7c7" filter="url(#b90)"/>
<ellipse cx="23.2" cy="3.4" rx="6.4" ry="4.2" transform="rotate(5 23.2 3.4)" fill="#a8a8a8" filter="url(#b70)"/>
<ellipse cx="23.2" cy="3.4" rx="5.4" ry="3.2" transform="rotate(5 23.2 3.4)" fill="#ffffff" filter="url(#b70)"/>
<ellipse cx="17.3" cy="17.9" rx="8.4" ry="6.1" transform="rotate(45 17.3 17.9)" fill="#a8a8a8" filter="url(#b70)"/>
<ellipse cx="17.3" cy="17.9" rx="7.4" ry="5.1" transform="rotate(45 17.3 17.9)" fill="#ffffff" filter="url(#b70)"/>
<ellipse cx="82.8" cy="16.5" rx="7.8" ry="6.4" transform="rotate(-55 82.8 16.5)" fill="#a8a8a8" filter="url(#b70)"/>
<ellipse cx="82.8" cy="16.5" rx="6.8" ry="5.4" transform="rotate(-55 82.8 16.5)" fill="#ffffff" filter="url(#b70)"/>
<ellipse cx="91.5" cy="31.5" rx="4.5" ry="2.2" transform="rotate(-25 91.5 31.5)" fill="#999999" filter="url(#b90)"/>
<ellipse cx="96.4" cy="24.2" rx="3.9" ry="7.7" transform="rotate(0 96.4 24.2)" fill="#a8a8a8" filter="url(#b70)"/>
<ellipse cx="96.4" cy="24.2" rx="3.1" ry="6.9" transform="rotate(0 96.4 24.2)" fill="#ffffff" filter="url(#b70)"/>
<ellipse cx="8.5" cy="67.5" rx="4.0" ry="1.8" transform="rotate(-35 8.5 67.5)" fill="#bfbfbf" filter="url(#b80)"/>
<ellipse cx="3.6" cy="76.0" rx="4.3" ry="7.8" transform="rotate(0 3.6 76.0)" fill="#a8a8a8" filter="url(#b70)"/>
<ellipse cx="3.6" cy="76.0" rx="3.5" ry="7.0" transform="rotate(0 3.6 76.0)" fill="#ffffff" filter="url(#b70)"/>
<ellipse cx="18.6" cy="81.6" rx="9.2" ry="6.0" transform="rotate(-50 18.6 81.6)" fill="#a8a8a8" filter="url(#b70)"/>
<ellipse cx="18.6" cy="81.6" rx="8.2" ry="5.0" transform="rotate(-50 18.6 81.6)" fill="#ffffff" filter="url(#b70)"/>
<ellipse cx="83.0" cy="81.6" rx="7.4" ry="8.2" transform="rotate(-25 83.0 81.6)" fill="#a8a8a8" filter="url(#b70)"/>
<ellipse cx="83.0" cy="81.6" rx="6.4" ry="7.2" transform="rotate(-25 83.0 81.6)" fill="#ffffff" filter="url(#b70)"/>
<ellipse cx="70.8" cy="95.3" rx="3.8" ry="3.8" transform="rotate(20 70.8 95.3)" fill="#e6e6e6" filter="url(#b90)"/>
<ellipse cx="77.1" cy="95.8" rx="6.2" ry="4.4" transform="rotate(5 77.1 95.8)" fill="#a8a8a8" filter="url(#b70)"/>
<ellipse cx="77.1" cy="95.8" rx="5.2" ry="3.4" transform="rotate(5 77.1 95.8)" fill="#ffffff" filter="url(#b70)"/>
<ellipse cx="1.8" cy="33.0" rx="3.4" ry="5.2" transform="rotate(0 1.8 33.0)" fill="#949494" filter="url(#b80)"/>
<ellipse cx="1.8" cy="33.0" rx="2.2" ry="3.4" transform="rotate(0 1.8 33.0)" fill="#e0e0e0" filter="url(#b80)"/>
<ellipse cx="66.8" cy="1.5" rx="4.1" ry="3.2" transform="rotate(0 66.8 1.5)" fill="#949494" filter="url(#b80)"/>
<ellipse cx="66.8" cy="1.5" rx="2.7" ry="2.1" transform="rotate(0 66.8 1.5)" fill="#e0e0e0" filter="url(#b80)"/>
<ellipse cx="98.3" cy="66.5" rx="3.0" ry="5.2" transform="rotate(0 98.3 66.5)" fill="#949494" filter="url(#b80)"/>
<ellipse cx="98.3" cy="66.5" rx="2.0" ry="3.4" transform="rotate(0 98.3 66.5)" fill="#e0e0e0" filter="url(#b80)"/>
<ellipse cx="33.3" cy="98.2" rx="3.9" ry="3.3" transform="rotate(0 33.3 98.2)" fill="#949494" filter="url(#b80)"/>
<ellipse cx="33.3" cy="98.2" rx="2.5" ry="2.1" transform="rotate(0 33.3 98.2)" fill="#e0e0e0" filter="url(#b80)"/>
<ellipse cx="32.7" cy="15.4" rx="1.2" ry="0.8" transform="rotate(30 32.7 15.4)" fill="#cccccc" filter="url(#b40)"/>
<ellipse cx="54.8" cy="15.8" rx="1.2" ry="0.8" transform="rotate(30 54.8 15.8)" fill="#cccccc" filter="url(#b40)"/>
<ellipse cx="15.5" cy="44.2" rx="1.2" ry="0.8" transform="rotate(30 15.5 44.2)" fill="#cccccc" filter="url(#b40)"/>
<ellipse cx="83.9" cy="32.0" rx="1.2" ry="0.8" transform="rotate(30 83.9 32.0)" fill="#cccccc" filter="url(#b40)"/>
<ellipse cx="83.9" cy="55.0" rx="1.2" ry="0.8" transform="rotate(30 83.9 55.0)" fill="#cccccc" filter="url(#b40)"/>
<ellipse cx="15.9" cy="66.9" rx="1.2" ry="0.8" transform="rotate(30 15.9 66.9)" fill="#cccccc" filter="url(#b40)"/>
<ellipse cx="44.8" cy="84.8" rx="1.2" ry="0.8" transform="rotate(30 44.8 84.8)" fill="#cccccc" filter="url(#b40)"/>
<ellipse cx="66.6" cy="84.4" rx="1.2" ry="0.8" transform="rotate(30 66.6 84.4)" fill="#cccccc" filter="url(#b40)"/>
<ellipse cx="29.8" cy="44.8" rx="1.0" ry="1.0" transform="rotate(0 29.8 44.8)" fill="#4c4c4c" filter="url(#b50)"/>
<ellipse cx="70.0" cy="54.1" rx="1.0" ry="1.0" transform="rotate(0 70.0 54.1)" fill="#4c4c4c" filter="url(#b50)"/>
<ellipse cx="54.4" cy="29.0" rx="1.0" ry="1.0" transform="rotate(0 54.4 29.0)" fill="#4c4c4c" filter="url(#b50)"/>
<ellipse cx="45.4" cy="70.3" rx="1.0" ry="1.0" transform="rotate(0 45.4 70.3)" fill="#4c4c4c" filter="url(#b50)"/>
<ellipse cx="38.3" cy="38.1" rx="3.3" ry="3.3" transform="rotate(0 38.3 38.1)" fill="#6b6b6b" filter="url(#b80)"/>
<ellipse cx="38.3" cy="38.1" rx="2.1" ry="2.1" transform="rotate(0 38.3 38.1)" fill="#a8a8a8" filter="url(#b70)"/>
<ellipse cx="60.5" cy="36.9" rx="3.3" ry="3.3" transform="rotate(0 60.5 36.9)" fill="#6b6b6b" filter="url(#b80)"/>
<ellipse cx="60.5" cy="36.9" rx="2.1" ry="2.1" transform="rotate(0 60.5 36.9)" fill="#a8a8a8" filter="url(#b70)"/>
<ellipse cx="39.2" cy="61.4" rx="3.3" ry="3.3" transform="rotate(0 39.2 61.4)" fill="#6b6b6b" filter="url(#b80)"/>
<ellipse cx="39.2" cy="61.4" rx="2.1" ry="2.1" transform="rotate(0 39.2 61.4)" fill="#a8a8a8" filter="url(#b70)"/>
<ellipse cx="62.0" cy="60.1" rx="3.3" ry="3.3" transform="rotate(0 62.0 60.1)" fill="#6b6b6b" filter="url(#b80)"/>
<ellipse cx="62.0" cy="60.1" rx="2.1" ry="2.1" transform="rotate(0 62.0 60.1)" fill="#a8a8a8" filter="url(#b70)"/>
</g></g></g>
<rect x="389.4" y="1.2" width="225.0" height="225.2" fill="none" stroke="#6a6a6a" stroke-width="0.8"/>
<line x1="397.7" y1="226.4" x2="397.7" y2="228.0" stroke="#222" stroke-width="0.5"/>
<text x="397.7" y="235.0" text-anchor="middle" class="t">0</text>
<line x1="387.8" y1="217.7" x2="389.4" y2="217.7" stroke="#222" stroke-width="0.5"/>
<text x="386.2" y="219.6" text-anchor="end" class="t">0</text>
<line x1="439.4" y1="226.4" x2="439.4" y2="228.0" stroke="#222" stroke-width="0.5"/>
<text x="439.4" y="235.0" text-anchor="middle" class="t">20</text>
<line x1="387.8" y1="176.1" x2="389.4" y2="176.1" stroke="#222" stroke-width="0.5"/>
<text x="386.2" y="178.0" text-anchor="end" class="t">20</text>
<line x1="481.0" y1="226.4" x2="481.0" y2="228.0" stroke="#222" stroke-width="0.5"/>
<text x="481.0" y="235.0" text-anchor="middle" class="t">40</text>
<line x1="387.8" y1="134.4" x2="389.4" y2="134.4" stroke="#222" stroke-width="0.5"/>
<text x="386.2" y="136.3" text-anchor="end" class="t">40</text>
<line x1="522.7" y1="226.4" x2="522.7" y2="228.0" stroke="#222" stroke-width="0.5"/>
<text x="522.7" y="235.0" text-anchor="middle" class="t">60</text>
<line x1="387.8" y1="92.8" x2="389.4" y2="92.8" stroke="#222" stroke-width="0.5"/>
<text x="386.2" y="94.7" text-anchor="end" class="t">60</text>
<line x1="564.3" y1="226.4" x2="564.3" y2="228.0" stroke="#222" stroke-width="0.5"/>
<text x="564.3" y="235.0" text-anchor="middle" class="t">80</text>
<line x1="387.8" y1="51.1" x2="389.4" y2="51.1" stroke="#222" stroke-width="0.5"/>
<text x="386.2" y="53.0" text-anchor="end" class="t">80</text>
<line x1="606.0" y1="226.4" x2="606.0" y2="228.0" stroke="#222" stroke-width="0.5"/>
<text x="606.0" y="235.0" text-anchor="middle" class="t">100</text>
<line x1="387.8" y1="9.5" x2="389.4" y2="9.5" stroke="#222" stroke-width="0.5"/>
<text x="386.2" y="11.4" text-anchor="end" class="t">100</text>
<text x="501.8" y="244.8" text-anchor="middle" class="t" style="font-size:5.8px">x</text>
<text transform="translate(373.6 114.0) rotate(-90)" text-anchor="middle" class="t" style="font-size:5.8px">y</text>
<rect x="628.4" y="1.2" width="8.2" height="225.2" fill="url(#cbg)" stroke="#222" stroke-width="0.4"/>
<line x1="636.6" y1="33.4" x2="638.6" y2="33.4" stroke="#222" stroke-width="0.5"/>
<text x="640.0" y="35.3" class="t">0.8</text>
<line x1="636.6" y1="81.5" x2="638.6" y2="81.5" stroke="#222" stroke-width="0.5"/>
<text x="640.0" y="83.4" class="t">0.6</text>
<line x1="636.6" y1="129.9" x2="638.6" y2="129.9" stroke="#222" stroke-width="0.5"/>
<text x="640.0" y="131.8" class="t">0.4</text>
<line x1="636.6" y1="178.3" x2="638.6" y2="178.3" stroke="#222" stroke-width="0.5"/>
<text x="640.0" y="180.2" class="t">0.2</text>
<text transform="translate(654.6 114.0) rotate(-90)" text-anchor="middle" class="t" style="font-size:5.8px;letter-spacing:0.38px">OP_4000_error</text>
</svg>
<p class="cap" style="left:0.3px;top:260.3px;font-size:18.8px;letter-spacing:0.3px;word-spacing:0.5px;transform:scaleX(1.12)">(a) Trained with experiments 1 and 3.</p>
<p class="cap" style="left:364.6px;top:260.3px;font-size:18.8px;letter-spacing:0.3px;word-spacing:0.5px;transform:scaleX(1.136)">(b) Trained with LOGOCV strategy.</p>
</body></html>
